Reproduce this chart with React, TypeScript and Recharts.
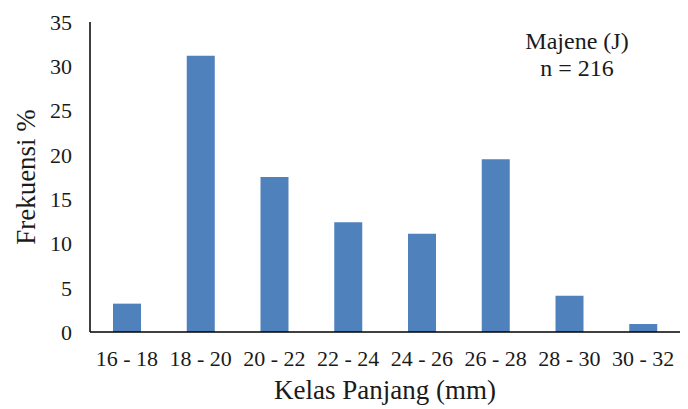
import { BarChart, Bar, XAxis, YAxis } from 'recharts';

const classes = ['16 - 18', '18 - 20', '20 - 22', '22 - 24', '24 - 26', '26 - 28', '28 - 30', '30 - 32'];
const freq = [3.2, 31.2, 17.5, 12.4, 11.1, 19.5, 4.1, 0.9];
const yTicks = [0, 5, 10, 15, 20, 25, 30, 35];

const data = classes.map((c, i) => ({ kelas: c, frek: freq[i] }));

const font = 'Liberation Serif';
const textColor = '#1a1a1a';

export default function App() {
  return (
    <div style={{ position: 'absolute', left: 0, top: 0, width: 688, height: 409, background: '#fff', fontFamily: font }}>
      <BarChart width={688} height={409} data={data} margin={{ top: 22, right: 8, left: 0, bottom: 0 }}>
        <XAxis
          dataKey="kelas"
          height={77}
          axisLine={{ stroke: '#000', strokeWidth: 1.5 }}
          tickLine={false}
          tickSize={0}
          tickMargin={18}
          interval={0}
          tick={{ fill: textColor, fontSize: 22, fontFamily: font }}
          label={{ value: 'Kelas Panjang (mm)', position: 'insideBottom', offset: 10, fill: textColor, fontSize: 27, fontFamily: font }}
        />
        <YAxis
          width={90}
          domain={[0, 35]}
          ticks={yTicks}
          interval={0}
          axisLine={{ stroke: '#000', strokeWidth: 1.5 }}
          tickLine={false}
          tickSize={0}
          tickMargin={18}
          tick={{ fill: textColor, fontSize: 22, fontFamily: font }}
          label={{ value: 'Frekuensi %', angle: -90, position: 'insideLeft', offset: 25, fill: textColor, fontSize: 27, fontFamily: font, style: { textAnchor: 'middle' } }}
        />
        <Bar dataKey="frek" fill="#4F81BD" barSize={28} isAnimationActive={false} />
      </BarChart>
      <div style={{ position: 'absolute', left: 497, top: 28, width: 160, textAlign: 'center', fontSize: 24, lineHeight: '27px', color: textColor, fontFamily: font }}>
        <div>Majene (J)</div>
        <div>n = 216</div>
      </div>
    </div>
  );
}
